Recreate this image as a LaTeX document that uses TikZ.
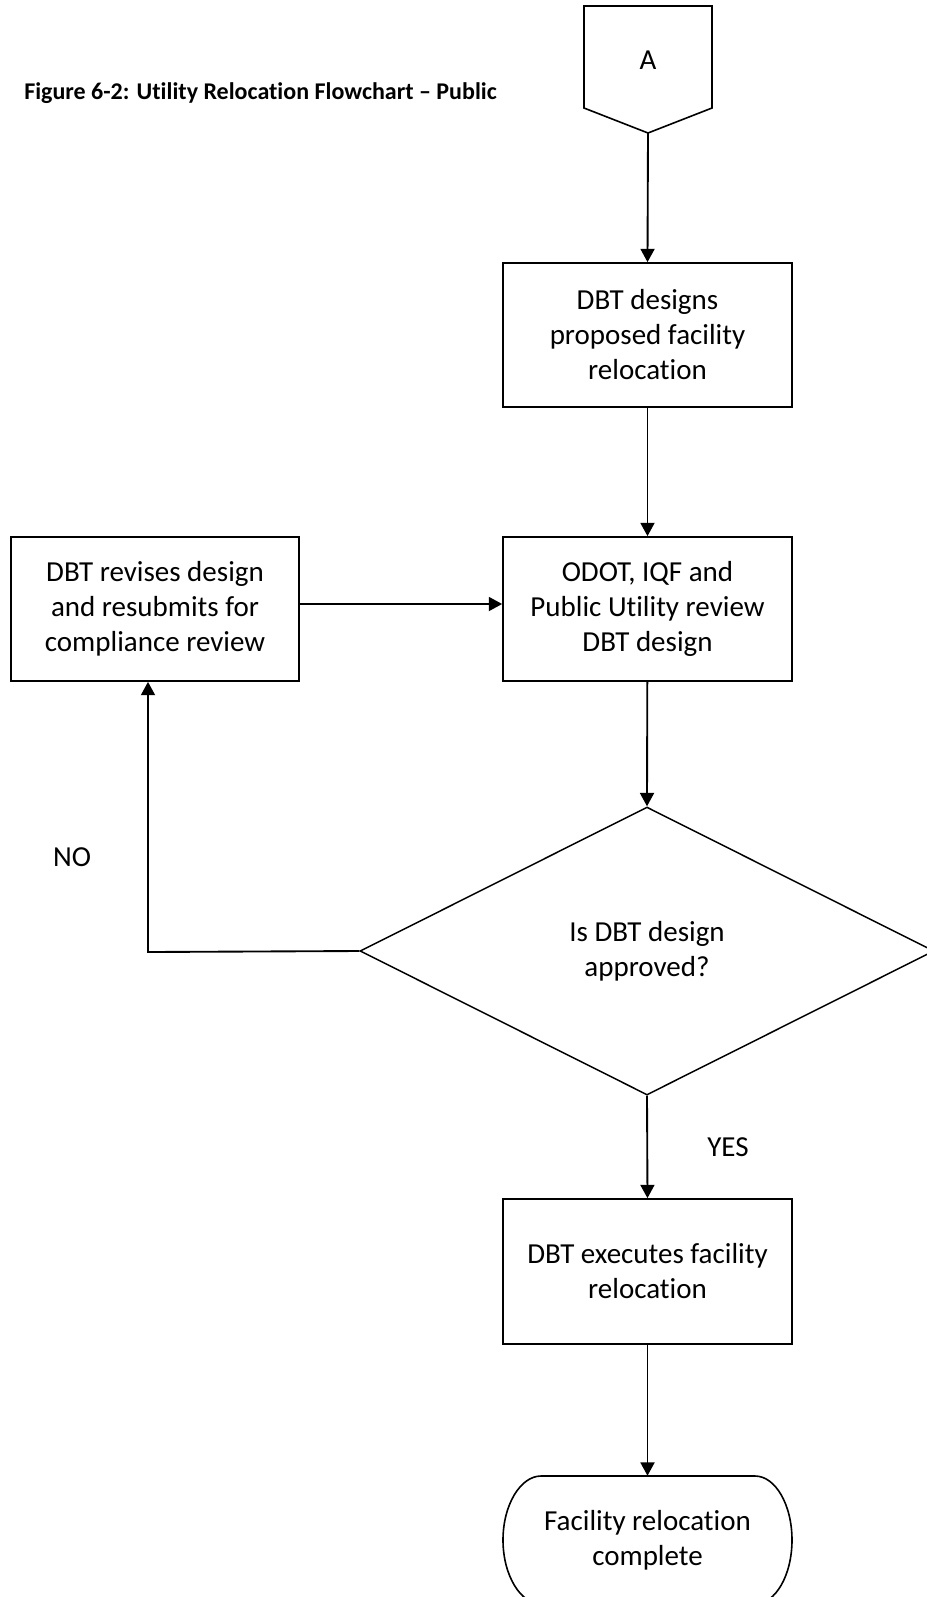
\documentclass[tikz,border=0pt]{standalone}
\usepackage{fontspec}
\setmainfont{Carlito}[Ligatures=NoCommon]
\usetikzlibrary{arrows.meta,shapes.geometric}
\begin{document}
\begin{tikzpicture}[x=0.75pt,y=-0.75pt,
  font=\fontsize{21.75pt}{26.25pt}\selectfont,
  box/.style={draw,line width=1.3pt,minimum width=216.75pt,minimum height=108pt,align=center,inner sep=0pt},
  decision/.style={draw,diamond,line width=1.1pt,minimum width=430.5pt,minimum height=216pt,align=center,inner sep=0pt},
  lbl/.style={inner sep=0pt},
  arr/.style={line width=1.4pt,-{Triangle[width=10.5pt,length=10pt]}},
  shapeline/.style={line width=1.2pt}
]
\useasboundingbox (0,0) rectangle (927,1597);
\clip (0,0) rectangle (927,1597);
\fill[white] (0,0) rectangle (927,1597);

% title
\node[anchor=base west,inner sep=0pt,font=\bfseries\fontsize{18pt}{22pt}\selectfont] (title) at (24,99) {Figure 6-2: Utility Relocation Flowchart – Public};

% off-page connector A
\draw[shapeline] (584,6) -- (712,6) -- (712,108) -- (648,133) -- (584,108) -- cycle;
\node[lbl] (A) at (648,60) {A};
\coordinate (Abot) at (648,133);

% process boxes
\node[box] (box1) at (647.5,335) {DBT designs\\proposed facility\\relocation};
\node[box] (box2) at (647.5,609) {ODOT, IQF and\\Public Utility review\\DBT design};
\node[box,minimum width=216pt] (rev) at (155,609) {DBT revises design\\and resubmits for\\compliance review};
\node[box,minimum height=108.75pt] (box3) at (647.5,1271.5) {DBT executes facility\\relocation};

% decision
\node[decision] (dec) at (647,951) {Is DBT design\\approved?};

% terminal
\draw[shapeline] (541,1476) -- (755,1476)
  .. controls (775.4,1476) and (792,1504.7) .. (792,1540)
  .. controls (792,1575.3) and (775.4,1604) .. (755,1604)
  -- (541,1604)
  .. controls (520.6,1604) and (503,1575.3) .. (503,1540)
  .. controls (503,1504.7) and (520.6,1476) .. (541,1476) -- cycle;
\node[lbl,align=center,minimum width=216.75pt,minimum height=96pt] (term) at (647.5,1540) {Facility relocation\\complete};

% labels
\node[lbl] (no) at (72,857) {NO};
\node[lbl] (yes) at (728,1147) {YES};

% connectors
\coordinate (nocorner) at (148,952);
\draw[arr] (Abot) -- (box1.north);
\draw[arr] (box1) -- (box2);
\draw[arr] ([yshift=3.75pt]rev.east) -- ([yshift=3.75pt]box2.west);
\draw[arr] (box2) -- (dec.north);
\draw[arr] (dec.west) -- (nocorner) -- (nocorner |- rev.south);
\draw[arr] (dec.south) -- (box3.north);
\draw[arr] (box3) -- (term.north);
\end{tikzpicture}
\end{document}
